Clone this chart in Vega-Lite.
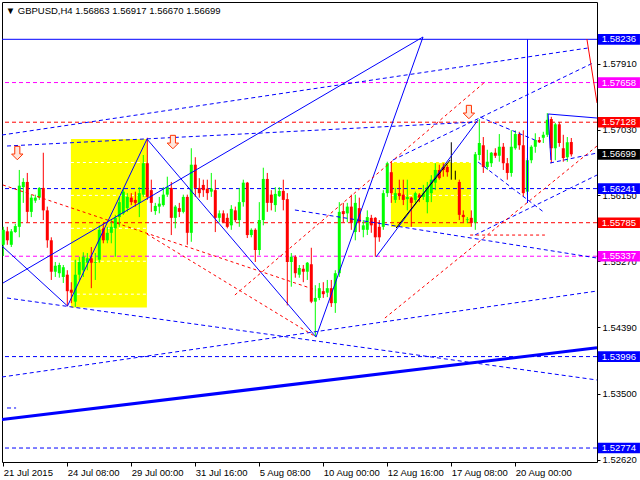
{
"$schema": "https://vega.github.io/schema/vega-lite/v6.json",
"width": 595, "height": 460,
"autosize": {"type": "none"},
"padding": {"left": 2, "top": 2, "right": 43, "bottom": 18},
"background": "white",
"config": {"view": {"stroke": "black", "strokeWidth": 1}, "font": "Liberation Sans", "scale": {"continuousPadding": 0}},
"datasets": {
"candles": [
{"i":0,"o":1.5549,"h":1.5573,"l":1.5534,"c":1.5569},
{"i":1,"o":1.5567,"h":1.5573,"l":1.5549,"c":1.5555},
{"i":2,"o":1.5549,"h":1.5570,"l":1.5546,"c":1.5567},
{"i":3,"o":1.5566,"h":1.5577,"l":1.5565,"c":1.5574},
{"i":4,"o":1.5573,"h":1.5649,"l":1.5559,"c":1.5628},
{"i":5,"o":1.5626,"h":1.5638,"l":1.5605,"c":1.5633},
{"i":6,"o":1.5633,"h":1.5645,"l":1.5579,"c":1.5593},
{"i":7,"o":1.5593,"h":1.5616,"l":1.5586,"c":1.5612},
{"i":8,"o":1.5608,"h":1.5616,"l":1.5605,"c":1.5612},
{"i":9,"o":1.5612,"h":1.5626,"l":1.5609,"c":1.5625},
{"i":10,"o":1.5625,"h":1.5672,"l":1.5582,"c":1.5595},
{"i":11,"o":1.5595,"h":1.5600,"l":1.5545,"c":1.5555},
{"i":12,"o":1.5555,"h":1.5559,"l":1.5502,"c":1.5513},
{"i":13,"o":1.5513,"h":1.5526,"l":1.5506,"c":1.5521},
{"i":14,"o":1.5511,"h":1.5525,"l":1.5505,"c":1.5522},
{"i":15,"o":1.5506,"h":1.5522,"l":1.5498,"c":1.5519},
{"i":16,"o":1.5509,"h":1.5515,"l":1.5467,"c":1.5487},
{"i":17,"o":1.5489,"h":1.5499,"l":1.5471,"c":1.5485},
{"i":18,"o":1.5473,"h":1.5529,"l":1.5466,"c":1.5509},
{"i":19,"o":1.5509,"h":1.5533,"l":1.5502,"c":1.5526},
{"i":20,"o":1.5515,"h":1.5539,"l":1.5506,"c":1.5533},
{"i":21,"o":1.5525,"h":1.5538,"l":1.5515,"c":1.5531},
{"i":22,"o":1.5531,"h":1.5546,"l":1.5491,"c":1.5525},
{"i":23,"o":1.5525,"h":1.5538,"l":1.5502,"c":1.5526},
{"i":24,"o":1.5529,"h":1.5575,"l":1.5525,"c":1.5569},
{"i":25,"o":1.5571,"h":1.5578,"l":1.5551,"c":1.5555},
{"i":26,"o":1.5555,"h":1.5573,"l":1.5551,"c":1.5565},
{"i":27,"o":1.5565,"h":1.5582,"l":1.5551,"c":1.5573},
{"i":28,"o":1.5571,"h":1.5589,"l":1.5533,"c":1.5585},
{"i":29,"o":1.5586,"h":1.5613,"l":1.5573,"c":1.5606},
{"i":30,"o":1.5591,"h":1.5625,"l":1.5589,"c":1.5620},
{"i":31,"o":1.5598,"h":1.5618,"l":1.5593,"c":1.5613},
{"i":32,"o":1.5612,"h":1.5618,"l":1.5602,"c":1.5606},
{"i":33,"o":1.5609,"h":1.5620,"l":1.5600,"c":1.5605},
{"i":34,"o":1.5605,"h":1.5626,"l":1.5586,"c":1.5618},
{"i":35,"o":1.5616,"h":1.5669,"l":1.5613,"c":1.5658},
{"i":36,"o":1.5658,"h":1.5692,"l":1.5609,"c":1.5613},
{"i":37,"o":1.5622,"h":1.5636,"l":1.5593,"c":1.5605},
{"i":38,"o":1.5594,"h":1.5605,"l":1.5589,"c":1.5601},
{"i":39,"o":1.5600,"h":1.5613,"l":1.5591,"c":1.5604},
{"i":40,"o":1.5602,"h":1.5626,"l":1.5600,"c":1.5616},
{"i":41,"o":1.5616,"h":1.5640,"l":1.5613,"c":1.5626},
{"i":42,"o":1.5625,"h":1.5633,"l":1.5562,"c":1.5585},
{"i":43,"o":1.5585,"h":1.5602,"l":1.5571,"c":1.5600},
{"i":44,"o":1.5598,"h":1.5605,"l":1.5586,"c":1.5593},
{"i":45,"o":1.5593,"h":1.5616,"l":1.5591,"c":1.5613},
{"i":46,"o":1.5613,"h":1.5616,"l":1.5549,"c":1.5565},
{"i":47,"o":1.5565,"h":1.5678,"l":1.5553,"c":1.5656},
{"i":48,"o":1.5656,"h":1.5666,"l":1.5613,"c":1.5625},
{"i":49,"o":1.5625,"h":1.5638,"l":1.5612,"c":1.5618},
{"i":50,"o":1.5629,"h":1.5636,"l":1.5613,"c":1.5622},
{"i":51,"o":1.5624,"h":1.5636,"l":1.5609,"c":1.5618},
{"i":52,"o":1.5620,"h":1.5645,"l":1.5613,"c":1.5624},
{"i":53,"o":1.5622,"h":1.5636,"l":1.5566,"c":1.5585},
{"i":54,"o":1.5585,"h":1.5595,"l":1.5579,"c":1.5591},
{"i":55,"o":1.5591,"h":1.5595,"l":1.5578,"c":1.5579},
{"i":56,"o":1.5585,"h":1.5591,"l":1.5571,"c":1.5573},
{"i":57,"o":1.5575,"h":1.5602,"l":1.5569,"c":1.5597},
{"i":58,"o":1.5595,"h":1.5600,"l":1.5579,"c":1.5582},
{"i":59,"o":1.5582,"h":1.5625,"l":1.5573,"c":1.5606},
{"i":60,"o":1.5606,"h":1.5636,"l":1.5600,"c":1.5632},
{"i":61,"o":1.5632,"h":1.5633,"l":1.5558,"c":1.5562},
{"i":62,"o":1.5562,"h":1.5571,"l":1.5559,"c":1.5569},
{"i":63,"o":1.5569,"h":1.5571,"l":1.5526,"c":1.5542},
{"i":64,"o":1.5542,"h":1.5606,"l":1.5535,"c":1.5582},
{"i":65,"o":1.5582,"h":1.5652,"l":1.5575,"c":1.5637},
{"i":66,"o":1.5637,"h":1.5645,"l":1.5593,"c":1.5605},
{"i":67,"o":1.5616,"h":1.5622,"l":1.5595,"c":1.5605},
{"i":68,"o":1.5602,"h":1.5626,"l":1.5593,"c":1.5617},
{"i":69,"o":1.5614,"h":1.5626,"l":1.5613,"c":1.5621},
{"i":70,"o":1.5621,"h":1.5636,"l":1.5595,"c":1.5609},
{"i":71,"o":1.5610,"h":1.5618,"l":1.5468,"c":1.5526},
{"i":72,"o":1.5526,"h":1.5538,"l":1.5493,"c":1.5533},
{"i":73,"o":1.5533,"h":1.5535,"l":1.5505,"c":1.5511},
{"i":74,"o":1.5509,"h":1.5522,"l":1.5505,"c":1.5518},
{"i":75,"o":1.5517,"h":1.5522,"l":1.5499,"c":1.5513},
{"i":76,"o":1.5513,"h":1.5526,"l":1.5502,"c":1.5525},
{"i":77,"o":1.5523,"h":1.5545,"l":1.5471,"c":1.5473},
{"i":78,"o":1.5473,"h":1.5495,"l":1.5426,"c":1.5478},
{"i":79,"o":1.5478,"h":1.5498,"l":1.5475,"c":1.5491},
{"i":80,"o":1.5487,"h":1.5499,"l":1.5478,"c":1.5483},
{"i":81,"o":1.5485,"h":1.5502,"l":1.5479,"c":1.5491},
{"i":82,"o":1.5491,"h":1.5502,"l":1.5466,"c":1.5471},
{"i":83,"o":1.5471,"h":1.5515,"l":1.5458,"c":1.5511},
{"i":84,"o":1.5511,"h":1.5606,"l":1.5506,"c":1.5593},
{"i":85,"o":1.5594,"h":1.5605,"l":1.5579,"c":1.5590},
{"i":86,"o":1.5591,"h":1.5605,"l":1.5579,"c":1.5600},
{"i":87,"o":1.5600,"h":1.5616,"l":1.5569,"c":1.5578},
{"i":88,"o":1.5566,"h":1.5616,"l":1.5555,"c":1.5605},
{"i":89,"o":1.5598,"h":1.5612,"l":1.5566,"c":1.5579},
{"i":90,"o":1.5569,"h":1.5582,"l":1.5559,"c":1.5575},
{"i":91,"o":1.5569,"h":1.5595,"l":1.5562,"c":1.5586},
{"i":92,"o":1.5585,"h":1.5589,"l":1.5565,"c":1.5575},
{"i":93,"o":1.5585,"h":1.5586,"l":1.5533,"c":1.5559},
{"i":94,"o":1.5573,"h":1.5582,"l":1.5553,"c":1.5559},
{"i":95,"o":1.5573,"h":1.5622,"l":1.5569,"c":1.5618},
{"i":96,"o":1.5618,"h":1.5660,"l":1.5613,"c":1.5658},
{"i":97,"o":1.5646,"h":1.5660,"l":1.5605,"c":1.5618},
{"i":98,"o":1.5609,"h":1.5625,"l":1.5605,"c":1.5618},
{"i":99,"o":1.5618,"h":1.5636,"l":1.5609,"c":1.5614},
{"i":100,"o":1.5616,"h":1.5636,"l":1.5602,"c":1.5609},
{"i":101,"o":1.5610,"h":1.5636,"l":1.5595,"c":1.5613},
{"i":102,"o":1.5612,"h":1.5613,"l":1.5573,"c":1.5605},
{"i":103,"o":1.5609,"h":1.5620,"l":1.5605,"c":1.5618},
{"i":104,"o":1.5616,"h":1.5618,"l":1.5606,"c":1.5612},
{"i":105,"o":1.5613,"h":1.5629,"l":1.5609,"c":1.5618},
{"i":106,"o":1.5606,"h":1.5633,"l":1.5591,"c":1.5626},
{"i":107,"o":1.5618,"h":1.5642,"l":1.5606,"c":1.5636},
{"i":108,"o":1.5632,"h":1.5658,"l":1.5622,"c":1.5649},
{"i":109,"o":1.5649,"h":1.5656,"l":1.5636,"c":1.5638},
{"i":110,"o":1.5653,"h":1.5658,"l":1.5640,"c":1.5649},
{"i":111,"o":1.5653,"h":1.5656,"l":1.5640,"c":1.5646},
{"i":112,"o":1.5646,"h":1.5686,"l":1.5636,"c":1.5646},
{"i":113,"o":1.5646,"h":1.5648,"l":1.5636,"c":1.5646},
{"i":114,"o":1.5633,"h":1.5636,"l":1.5582,"c":1.5589},
{"i":115,"o":1.5589,"h":1.5595,"l":1.5579,"c":1.5586},
{"i":116,"o":1.5582,"h":1.5586,"l":1.5578,"c":1.5583},
{"i":117,"o":1.5585,"h":1.5595,"l":1.5573,"c":1.5578},
{"i":118,"o":1.5579,"h":1.5673,"l":1.5569,"c":1.5670},
{"i":119,"o":1.5669,"h":1.5717,"l":1.5662,"c":1.5685},
{"i":120,"o":1.5682,"h":1.5693,"l":1.5645,"c":1.5653},
{"i":121,"o":1.5653,"h":1.5676,"l":1.5649,"c":1.5660},
{"i":122,"o":1.5658,"h":1.5673,"l":1.5653,"c":1.5672},
{"i":123,"o":1.5672,"h":1.5678,"l":1.5665,"c":1.5668},
{"i":124,"o":1.5668,"h":1.5697,"l":1.5660,"c":1.5680},
{"i":125,"o":1.5680,"h":1.5685,"l":1.5649,"c":1.5658},
{"i":126,"o":1.5658,"h":1.5665,"l":1.5636,"c":1.5645},
{"i":127,"o":1.5645,"h":1.5702,"l":1.5640,"c":1.5680},
{"i":128,"o":1.5678,"h":1.5702,"l":1.5676,"c":1.5697},
{"i":129,"o":1.5697,"h":1.5700,"l":1.5676,"c":1.5682},
{"i":130,"o":1.5682,"h":1.5702,"l":1.5613,"c":1.5618},
{"i":131,"o":1.5620,"h":1.5665,"l":1.5616,"c":1.5662},
{"i":132,"o":1.5662,"h":1.5682,"l":1.5658,"c":1.5680},
{"i":133,"o":1.5680,"h":1.5698,"l":1.5672,"c":1.5689},
{"i":134,"o":1.5689,"h":1.5693,"l":1.5685,"c":1.5686},
{"i":135,"o":1.5692,"h":1.5700,"l":1.5685,"c":1.5696},
{"i":136,"o":1.5696,"h":1.5725,"l":1.5693,"c":1.5716},
{"i":137,"o":1.5717,"h":1.5720,"l":1.5658,"c":1.5678},
{"i":138,"o":1.5678,"h":1.5712,"l":1.5662,"c":1.5710},
{"i":139,"o":1.5710,"h":1.5713,"l":1.5680,"c":1.5685},
{"i":140,"o":1.5678,"h":1.5696,"l":1.5660,"c":1.5665},
{"i":141,"o":1.5666,"h":1.5693,"l":1.5660,"c":1.5686},
{"i":142,"o":1.56863,"h":1.56917,"l":1.56670,"c":1.56699}
],
"boxes": [
{"x1":16.9,"x2":35.9,"p1":1.54652,"p2":1.56903},
{"x1":96.9,"x2":116.9,"p1":1.55727,"p2":1.56596}
],
"gridlines": [
{"x1":16.9,"x2":35.9,"p":1.5659},
{"x1":16.9,"x2":35.9,"p":1.5615},
{"x1":16.9,"x2":35.9,"p":1.5571},
{"x1":16.9,"x2":35.9,"p":1.5527},
{"x1":16.9,"x2":35.9,"p":1.5483},
{"x1":96.9,"x2":116.9,"p":1.5659},
{"x1":96.9,"x2":116.9,"p":1.5615}
],
"levels": [
{"p":1.58236,"kind":"main","solid":true},
{"p":1.57658,"kind":"target","solid":false},
{"p":1.57128,"kind":"stop","solid":false},
{"p":1.56241,"kind":"main","solid":false},
{"p":1.55785,"kind":"stop","solid":false},
{"p":1.55337,"kind":"target","solid":false},
{"p":1.53996,"kind":"main","solid":false},
{"p":1.52774,"kind":"main","solid":false}
],
"tags": [
{"p":1.58236,"kind":"main","t":"1.58236"},
{"p":1.57658,"kind":"target","t":"1.57658"},
{"p":1.57128,"kind":"stop","t":"1.57128"},
{"p":1.56699,"kind":"bid","t":"1.56699"},
{"p":1.56241,"kind":"main","t":"1.56241"},
{"p":1.55785,"kind":"stop","t":"1.55785"},
{"p":1.55337,"kind":"target","t":"1.55337"},
{"p":1.53996,"kind":"main","t":"1.53996"},
{"p":1.52774,"kind":"main","t":"1.52774"}
],
"segs": [
{"set":"trend","x1":-0.08,"y1":1.54979,"x2":104.93,"y2":1.58267},
{"set":"trend","x1":-0.33,"y1":1.55474,"x2":16.05,"y2":1.54672},
{"set":"trend","x1":16.05,"y1":1.54672,"x2":35.93,"y2":1.56903},
{"set":"trend","x1":35.93,"y1":1.56903,"x2":78.18,"y2":1.54257},
{"set":"trend","x1":78.18,"y1":1.54257,"x2":104.93,"y2":1.58267},
{"set":"trend","x1":93.18,"y1":1.55327,"x2":118.68,"y2":1.57157},
{"set":"trend","x1":136.2,"y1":1.57238,"x2":148.43,"y2":1.57184},
{"set":"trend","x1":136.2,"y1":1.57238,"x2":136.9,"y2":1.56623},
{"set":"trend","x1":131.05,"y1":1.58236,"x2":131.05,"y2":1.56048},
{"set":"channel","x1":-0.33,"y1":1.56957,"x2":146.2,"y2":1.58120},
{"set":"channel","x1":0.93,"y1":1.56810,"x2":118.4,"y2":1.57131},
{"set":"channel","x1":-0.33,"y1":1.53723,"x2":148.43,"y2":1.54872},
{"set":"channel","x1":0.93,"y1":1.54779,"x2":148.43,"y2":1.53683},
{"set":"channel","x1":72.9,"y1":1.55955,"x2":148.43,"y2":1.55313},
{"set":"channel","x1":97.4,"y1":1.56623,"x2":147.4,"y2":1.57919},
{"set":"channel","x1":117.9,"y1":1.55620,"x2":148.43,"y2":1.56422},
{"set":"channel","x1":118.7,"y1":1.56596,"x2":135.4,"y2":1.55915},
{"set":"channel","x1":119.2,"y1":1.57197,"x2":132.9,"y2":1.56890},
{"set":"channel","x1":136.7,"y1":1.56583,"x2":148.43,"y2":1.56716},
{"set":"channel","x1":0.93,"y1":1.53309,"x2":3.2,"y2":1.53309},
{"set":"fan","x1":-0.08,"y1":1.56289,"x2":78.2,"y2":1.54885},
{"set":"fan","x1":35.9,"y1":1.55634,"x2":78.2,"y2":1.54257},
{"set":"fan","x1":57.9,"y1":1.54819,"x2":120.4,"y2":1.57665},
{"set":"fan","x1":95.4,"y1":1.54511,"x2":148.43,"y2":1.56810},
{"set":"fan","x1":116.7,"y1":1.55620,"x2":135.4,"y2":1.55620},
{"set":"redsolid","x1":145.9,"y1":1.58240,"x2":148.43,"y2":1.57385},
{"set":"black","x1":98.2,"y1":1.55714,"x2":111.7,"y2":1.56623},
{"set":"thick","x1":-0.33,"y1":1.53155,"x2":148.43,"y2":1.54114}
],
"arrows": [
{"i":3.5,"p":1.56716},
{"i":42.4,"p":1.56863},
{"i":116.4,"p":1.57264}
]
},
"layer": [
{
"data": {"name": "boxes"},
"mark": {"type": "rect", "color": "#ffff00"},
"encoding": {
"x": {"field": "x1", "type": "quantitative", "scale": {"domain": [-0.325, 148.425], "nice": false, "zero": false, "padding": 0},
  "axis": {"values": [0, 16, 32, 48, 64, 80, 96, 112, 128], "labelExpr": "['21 Jul 2015','24 Jul 08:00','29 Jul 00:00','31 Jul 16:00','5 Aug 08:00','10 Aug 00:00','12 Aug 16:00','17 Aug 08:00','20 Aug 00:00'][round(datum.value/16)]", "labelAlign": "left", "labelFlush": false, "labelOverlap": false, "grid": false, "domain": false, "title": null, "tickSize": 4, "tickColor": "black", "labelColor": "black", "labelFontSize": 9.5, "labelFont": "Liberation Sans", "labelPadding": 1, "labelBaseline": "top", "labelBound": false}},
"x2": {"field": "x2"},
"y": {"field": "p1", "type": "quantitative", "scale": {"domain": [1.525872, 1.587345], "nice": false, "zero": false, "padding": 0},
  "axis": {"orient": "right", "values": [1.5835, 1.5791, 1.5747, 1.5703, 1.5659, 1.5615, 1.5571, 1.5527, 1.5483, 1.5439, 1.5395, 1.535, 1.5306, 1.5262], "format": ".5f", "grid": false, "domain": false, "title": null, "tickSize": 3, "tickColor": "black", "labelColor": "black", "labelFontSize": 9.5, "labelFont": "Liberation Sans", "labelPadding": 2, "labelOverlap": false, "labelFlush": false, "labelBaseline": "middle"}},
"y2": {"field": "p2"}
}
},
{
"data": {"name": "gridlines"},
"mark": {"type": "rule", "color": "white", "strokeDash": [3, 3], "strokeWidth": 1},
"encoding": {
"x": {"field": "x1", "type": "quantitative"},
"x2": {"field": "x2"},
"y": {"field": "p", "type": "quantitative"}
}
},
{
"data": {"name": "levels"},
"transform": [{"filter": "!datum.solid"}],
"mark": {"type": "rule", "strokeDash": [4, 3], "strokeWidth": 1},
"encoding": {
"y": {"field": "p", "type": "quantitative"},
"color": {"field": "kind", "type": "nominal", "scale": {"domain": ["main", "target", "stop", "bid"], "range": ["#0000ff", "#ff00ff", "#ff0000", "#000000"]}, "legend": null}
}
},
{
"data": {"name": "levels"},
"transform": [{"filter": "datum.solid"}],
"mark": {"type": "rule", "strokeWidth": 1},
"encoding": {
"y": {"field": "p", "type": "quantitative"},
"color": {"field": "kind", "type": "nominal", "scale": {"domain": ["main", "target", "stop", "bid"], "range": ["#0000ff", "#ff00ff", "#ff0000", "#000000"]}, "legend": null}
}
},
{
"data": {"name": "candles"},
"mark": {"type": "rule", "strokeWidth": 1},
"encoding": {
"x": {"field": "i", "type": "quantitative"},
"y": {"field": "l", "type": "quantitative"},
"y2": {"field": "h"},
"color": {"condition": [{"test": "datum.c > datum.o", "value": "#00ff00"}, {"test": "datum.c < datum.o", "value": "#ff0000"}], "value": "#000000"}
}
},
{
"data": {"name": "candles"},
"mark": {"type": "bar", "size": 3},
"encoding": {
"x": {"field": "i", "type": "quantitative"},
"y": {"field": "o", "type": "quantitative"},
"y2": {"field": "c"},
"color": {"condition": [{"test": "datum.c > datum.o", "value": "#00ff00"}, {"test": "datum.c < datum.o", "value": "#ff0000"}], "value": "#000000"}
}
},
{
"data": {"name": "segs"},
"transform": [{"filter": "datum.set == 'trend'"}],
"mark": {"type": "rule", "color": "#0000ff", "strokeWidth": 1, "clip": true},
"encoding": {
"x": {"field": "x1", "type": "quantitative"},
"x2": {"field": "x2"},
"y": {"field": "y1", "type": "quantitative"},
"y2": {"field": "y2"}
}
},
{
"data": {"name": "segs"},
"transform": [{"filter": "datum.set == 'channel'"}],
"mark": {"type": "rule", "color": "#0000ff", "strokeWidth": 1, "strokeDash": [4, 3], "clip": true},
"encoding": {
"x": {"field": "x1", "type": "quantitative"},
"x2": {"field": "x2"},
"y": {"field": "y1", "type": "quantitative"},
"y2": {"field": "y2"}
}
},
{
"data": {"name": "segs"},
"transform": [{"filter": "datum.set == 'fan'"}],
"mark": {"type": "rule", "color": "#ff0000", "strokeWidth": 1, "strokeDash": [3, 3], "clip": true},
"encoding": {
"x": {"field": "x1", "type": "quantitative"},
"x2": {"field": "x2"},
"y": {"field": "y1", "type": "quantitative"},
"y2": {"field": "y2"}
}
},
{
"data": {"name": "segs"},
"transform": [{"filter": "datum.set == 'redsolid'"}],
"mark": {"type": "rule", "color": "#ff0000", "strokeWidth": 1, "clip": true},
"encoding": {
"x": {"field": "x1", "type": "quantitative"},
"x2": {"field": "x2"},
"y": {"field": "y1", "type": "quantitative"},
"y2": {"field": "y2"}
}
},
{
"data": {"name": "segs"},
"transform": [{"filter": "datum.set == 'black'"}],
"mark": {"type": "rule", "color": "#000000", "strokeWidth": 1, "clip": true},
"encoding": {
"x": {"field": "x1", "type": "quantitative"},
"x2": {"field": "x2"},
"y": {"field": "y1", "type": "quantitative"},
"y2": {"field": "y2"}
}
},
{
"data": {"name": "segs"},
"transform": [{"filter": "datum.set == 'thick'"}],
"mark": {"type": "rule", "color": "#0000ff", "strokeWidth": 3, "clip": true},
"encoding": {
"x": {"field": "x1", "type": "quantitative"},
"x2": {"field": "x2"},
"y": {"field": "y1", "type": "quantitative"},
"y2": {"field": "y2"}
}
},
{
"data": {"name": "arrows"},
"mark": {"type": "point", "shape": "M-0.38,-1L0.38,-1L0.38,0.15L0.85,0.15L0,1L-0.85,0.15L-0.38,0.15Z", "size": 180, "filled": true, "fill": "#ffe6dc", "stroke": "#ff3300", "strokeWidth": 1, "opacity": 1},
"encoding": {
"x": {"field": "i", "type": "quantitative"},
"y": {"field": "p", "type": "quantitative"}
}
},
{
"data": {"name": "tags"},
"mark": {"type": "point", "shape": "M-1.78,-0.45L1.78,-0.45L1.78,0.45L-1.78,0.45Z", "size": 560, "filled": true, "opacity": 1, "strokeWidth": 0},
"encoding": {
"x": {"datum": 153.9, "type": "quantitative"},
"y": {"field": "p", "type": "quantitative"},
"color": {"field": "kind", "type": "nominal", "scale": {"domain": ["main", "target", "stop", "bid"], "range": ["#0000ff", "#ff00ff", "#ff0000", "#000000"]}, "legend": null}
}
},
{
"data": {"name": "tags"},
"mark": {"type": "text", "color": "white", "font": "Liberation Sans", "fontSize": 9.5, "align": "center", "baseline": "middle"},
"encoding": {
"x": {"datum": 153.9, "type": "quantitative"},
"y": {"field": "p", "type": "quantitative"},
"text": {"field": "t"}
}
},
{
"data": {"values": [{"t": "▼  GBPUSD,H4  1.56863 1.56917 1.56670 1.56699"}]},
"mark": {"type": "text", "color": "black", "font": "Liberation Sans, DejaVu Sans", "fontSize": 9.5, "align": "left", "baseline": "middle"},
"encoding": {
"x": {"datum": 0.6, "type": "quantitative"},
"y": {"datum": 1.58614, "type": "quantitative"},
"text": {"field": "t"}
}
}
]
}
